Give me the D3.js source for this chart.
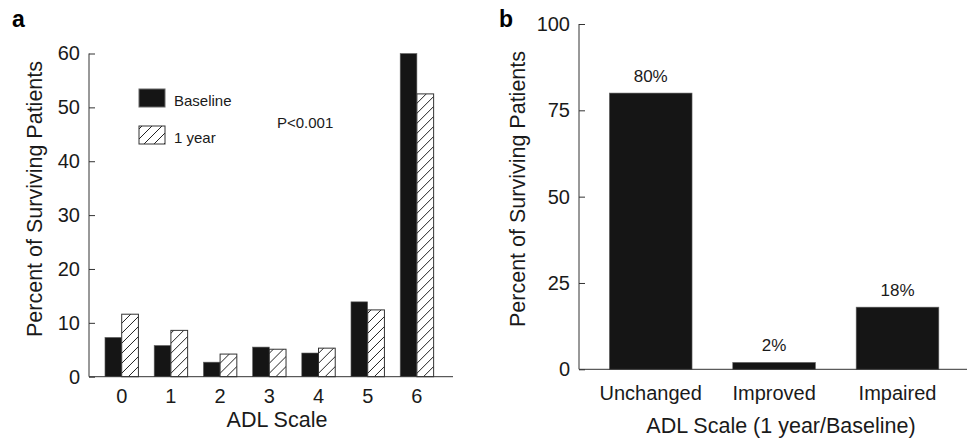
<!DOCTYPE html>
<html>
<head>
<meta charset="utf-8">
<script src="https://d3js.org/d3.v7.min.js"></script>
<style>
    body { margin: 0; background: #fff; }
    svg { font-family: "Liberation Sans", Arial, sans-serif; }
    .axis path, .axis line { stroke: #333; }
    .axis text { font-size: 20px; fill: #1a1a1a; }
    .title { font-size: 21.5px; fill: #1a1a1a; }
</style>
</head>
<body>
<svg id="chart" width="968" height="439"></svg>
<script>
// panel a: ADL scale distribution
var adlLevels = ["0", "1", "2", "3", "4", "5", "6"];
var seriesNames = ["Baseline", "1 year"];
var baseline = [7.3, 5.8, 2.7, 5.5, 4.4, 13.9, 60];
var oneYear = [11.6, 8.6, 4.2, 5.1, 5.3, 12.4, 52.5];
var ticksA = [0, 10, 20, 30, 40, 50, 60];

// panel b: change between baseline and 1 year
var changeCats = ["Unchanged", "Improved", "Impaired"];
var changeVals = [80, 2, 18];
var ticksB = [0, 25, 50, 75, 100];

var svg = d3.select("#chart");

var defs = svg.append("defs");
var pat = defs.append("pattern")
    .attr("id", "hatch")
    .attr("patternUnits", "userSpaceOnUse")
    .attr("width", 10).attr("height", 10);
pat.append("rect").attr("width", 10).attr("height", 10).attr("fill", "#fff");
pat.append("path")
    .attr("d", "M-1,11 L11,-1 M-6,6 L6,-6 M4,16 L16,4")
    .attr("stroke", "#222").attr("stroke-width", 1);

// ---------- panel a ----------
var yA = d3.scaleLinear().domain([0, 60]).range([376.7, 53.5]);
var xA = d3.scaleBand().domain(adlLevels).range([97.1, 441.5])
    .paddingInner(0.32).paddingOuter(0.16);
var xA1 = d3.scaleBand().domain(seriesNames).range([0, xA.bandwidth()]);

var gA = svg.append("g");

gA.append("g")
    .attr("class", "axis")
    .attr("transform", "translate(89,0)")
    .call(d3.axisRight(yA).tickValues(ticksA).tickSize(6).tickSizeOuter(0))
    .call(function(g) {
        g.select(".domain").remove();
        g.selectAll("text").attr("x", -9).attr("text-anchor", "end");
    });
gA.append("line")
    .attr("x1", 89).attr("x2", 89)
    .attr("y1", yA(0)).attr("y2", yA(60))
    .attr("stroke", "#333");

var groups = gA.selectAll(".grp")
    .data(adlLevels)
    .join("g")
    .attr("transform", function(d) { return "translate(" + xA(d) + ",0)"; });

groups.append("rect")
    .attr("x", xA1("Baseline"))
    .attr("y", function(d, i) { return yA(baseline[i]); })
    .attr("width", xA1.bandwidth())
    .attr("height", function(d, i) { return yA(0) - yA(baseline[i]); })
    .attr("fill", "#151515")
    .attr("stroke", "#666").attr("stroke-width", 0.6);

groups.append("rect")
    .attr("x", xA1("1 year"))
    .attr("y", function(d, i) { return yA(oneYear[i]); })
    .attr("width", xA1.bandwidth())
    .attr("height", function(d, i) { return yA(0) - yA(oneYear[i]); })
    .attr("fill", "url(#hatch)")
    .attr("stroke", "#333").attr("stroke-width", 1);

gA.append("g")
    .attr("class", "axis")
    .attr("transform", "translate(0," + yA(0) + ")")
    .call(d3.axisBottom(xA).tickSize(0).tickPadding(12))
    .call(function(g) {
        g.select(".domain").remove();
        g.selectAll("text").attr("dy", "0.71em");
    });
gA.append("line")
    .attr("x1", 89).attr("x2", 453)
    .attr("y1", yA(0)).attr("y2", yA(0))
    .attr("stroke", "#333");

gA.append("text").attr("class", "title")
    .attr("x", 277).attr("y", 427)
    .attr("text-anchor", "middle")
    .text("ADL Scale");
gA.append("text").attr("class", "title")
    .attr("transform", "translate(42,199) rotate(-90)")
    .attr("text-anchor", "middle")
    .text("Percent of Surviving Patients");
gA.append("text")
    .attr("x", 12).attr("y", 27)
    .attr("font-size", 23).attr("font-weight", "bold")
    .text("a");

// legend
var legend = gA.append("g").attr("transform", "translate(139,89)");
seriesNames.forEach(function(name, i) {
    legend.append("rect")
        .attr("x", 0).attr("y", i * 37)
        .attr("width", 26).attr("height", 18)
        .attr("fill", i === 0 ? "#151515" : "url(#hatch)")
        .attr("stroke", i === 0 ? "#666" : "#333");
    legend.append("text")
        .attr("x", 35).attr("y", i * 37 + 17)
        .attr("font-size", 15).attr("fill", "#1a1a1a")
        .text(name);
});
gA.append("text")
    .attr("x", 277).attr("y", 128)
    .attr("font-size", 15).attr("fill", "#1a1a1a")
    .text("P<0.001");

// ---------- panel b ----------
var yB = d3.scaleLinear().domain([0, 100]).range([369.3, 24]);
var xB = d3.scaleBand().domain(changeCats).range([589, 959.2])
    .paddingInner(0.33).paddingOuter(0.165);

var gB = svg.append("g");

gB.append("g")
    .attr("class", "axis")
    .attr("transform", "translate(579,0)")
    .call(d3.axisRight(yB).tickValues(ticksB).tickSize(6).tickSizeOuter(0))
    .call(function(g) {
        g.select(".domain").remove();
        g.selectAll("text").attr("x", -9).attr("text-anchor", "end");
    });
gB.append("line")
    .attr("x1", 579).attr("x2", 579)
    .attr("y1", yB(0)).attr("y2", yB(100))
    .attr("stroke", "#333");

gB.selectAll(".bar")
    .data(changeCats)
    .join("rect")
    .attr("x", function(d) { return xB(d); })
    .attr("y", function(d, i) { return yB(changeVals[i]); })
    .attr("width", xB.bandwidth())
    .attr("height", function(d, i) { return yB(0) - yB(changeVals[i]); })
    .attr("fill", "#151515")
    .attr("stroke", "#666").attr("stroke-width", 0.6);

gB.selectAll(".lbl")
    .data(changeCats)
    .join("text")
    .attr("x", function(d) { return xB(d) + xB.bandwidth() / 2; })
    .attr("y", function(d, i) { return yB(changeVals[i]) - 11; })
    .attr("text-anchor", "middle")
    .attr("font-size", 17).attr("fill", "#1a1a1a")
    .text(function(d, i) { return changeVals[i] + "%"; });

gB.append("g")
    .attr("class", "axis")
    .attr("transform", "translate(0," + yB(0) + ")")
    .call(d3.axisBottom(xB).tickSize(0).tickPadding(17))
    .call(function(g) {
        g.select(".domain").remove();
        g.selectAll("text").attr("dy", "0.71em");
    });
gB.append("line")
    .attr("x1", 579).attr("x2", 967)
    .attr("y1", yB(0)).attr("y2", yB(0))
    .attr("stroke", "#333");

gB.append("text").attr("class", "title")
    .attr("x", 781).attr("y", 433)
    .attr("text-anchor", "middle")
    .text("ADL Scale (1 year/Baseline)");
gB.append("text").attr("class", "title")
    .attr("transform", "translate(525,189) rotate(-90)")
    .attr("text-anchor", "middle")
    .text("Percent of Surviving Patients");
gB.append("text")
    .attr("x", 499).attr("y", 27)
    .attr("font-size", 23).attr("font-weight", "bold")
    .text("b");
</script>
</body>
</html>
